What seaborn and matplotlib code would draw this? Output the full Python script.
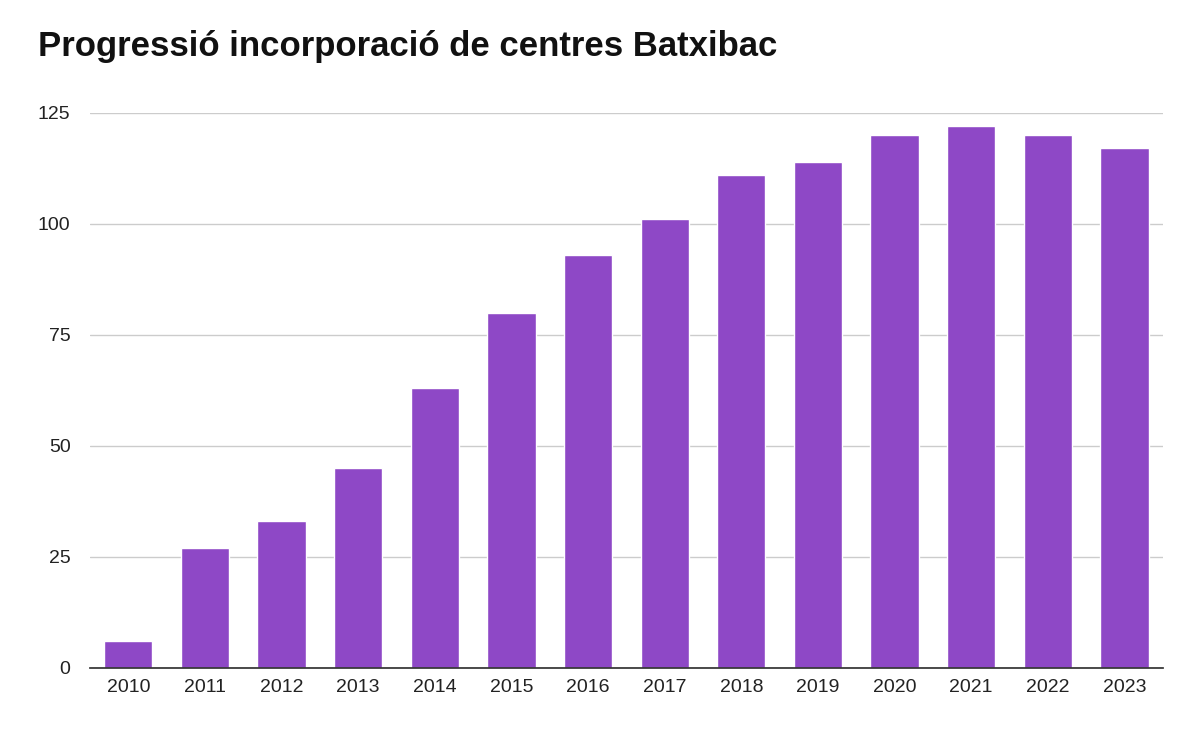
import matplotlib
matplotlib.use("Agg")
import matplotlib.pyplot as plt
import seaborn as sns
import pandas as pd

years = ["2010","2011","2012","2013","2014","2015","2016","2017","2018","2019","2020","2021","2022","2023"]
centres = [6, 27, 33, 45, 63, 80, 93, 101, 111, 114, 120, 122, 120, 117]
yticks = [0, 25, 50, 75, 100, 125]

sns.set_theme(style="white")
plt.rcParams['font.family'] = ['Liberation Sans', 'DejaVu Sans']

fig = plt.figure(figsize=(12, 7.42), dpi=100)
ax = fig.add_axes([0.075, 0.10, 0.894, 0.748])
df = pd.DataFrame({"year": years, "n": centres})
sns.barplot(data=df, x="year", y="n", color="#8e48c6", saturation=1, width=0.63, ax=ax)
ax.set_ylim(0, 125)
ax.set_yticks(yticks)
ax.grid(axis="y", color="#cccccc", linewidth=1)
ax.set_axisbelow(True)
for s in ["top", "right", "left"]:
    ax.spines[s].set_visible(False)
ax.spines["bottom"].set_color("#333333")
ax.set_xlabel("")
ax.set_ylabel("")
ax.tick_params(axis="both", labelsize=14, colors="#222222", length=0)
ax.tick_params(axis="x", pad=8)
ax.tick_params(axis="y", pad=14)
fig.text(0.032, 0.925, "Progressió incorporació de centres Batxibac", fontsize=25, fontweight="bold", color="#111111")
fig.savefig("out.png", dpi=100)
